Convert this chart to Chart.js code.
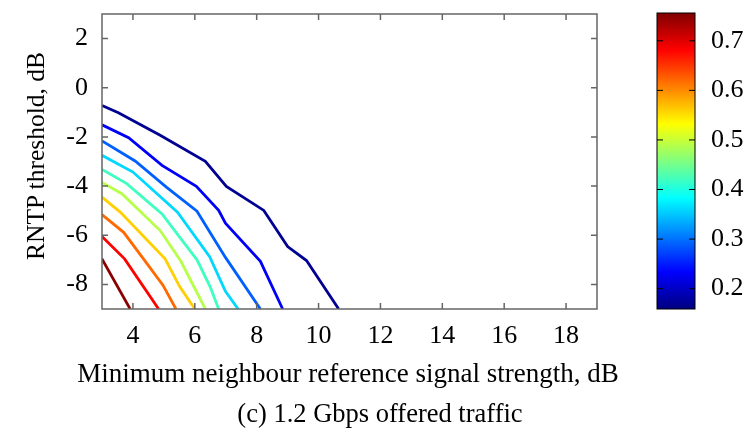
<!DOCTYPE html>
<html>
<head>
<meta charset="utf-8">
<script src="https://cdn.jsdelivr.net/npm/chart.js@4.4.0/dist/chart.umd.min.js"></script>
<style>
  body { margin: 0; background: #fff; }
  #wrap { position: relative; width: 749px; height: 434px; overflow: hidden; }
  canvas { position: absolute; top: 0; }
  .lbl { position: absolute; text-align: center; white-space: nowrap; color: #000;
         font: 27px/27px "Liberation Serif", serif; }
  #xtitle { left: 48px; width: 600px; top: 360px; }
  #ytitle { left: -114px; width: 300px; top: 143px; height: 26px; font-size: 25.5px; line-height: 26px;
            transform: rotate(-90deg); }
  #caption { left: 0; width: 760px; top: 400px; font-size: 26.5px; }
</style>
</head>
<body>
<div id="wrap">
  <canvas id="chart" width="749" height="434" style="left:0"></canvas>
  <canvas id="cbar" width="109" height="434" style="left:640px"></canvas>
  <div class="lbl" id="ytitle">RNTP threshold, dB</div>
  <div class="lbl" id="xtitle">Minimum neighbour reference signal strength, dB</div>
  <div class="lbl" id="caption">(c) 1.2 Gbps offered traffic</div>
</div>
<script>
// axis ticks
const xTicks = [4, 6, 8, 10, 12, 14, 16, 18];
const yTicks = [-8, -6, -4, -2, 0, 2];
const cbTicks = [0.2, 0.3, 0.4, 0.5, 0.6, 0.7];
const cbRange = [0.159, 0.756];

// contour levels (colour on the colour bar) and the lines, [x, y]
const levels = [0.17, 0.23, 0.29, 0.36, 0.42, 0.49, 0.56, 0.62, 0.68, 0.75];
const line1 = [[3.0, -0.72], [3.53, -1.02], [4.88, -1.93], [6.34, -2.99], [7.02, -4.01], [8.23, -4.99], [9.0, -6.46], [9.61, -7.03], [10.65, -9]];
const line2 = [[3.0, -1.51], [3.86, -2.03], [4.94, -3.16], [6.05, -4.01], [6.77, -4.99], [6.99, -5.51], [8.12, -7.06], [8.84, -9]];
const line3 = [[3.0, -2.16], [4.07, -2.98], [5.08, -4.04], [6.07, -5.02], [6.99, -6.9], [8.12, -9]];
const line4 = [[3.0, -2.75], [4.0, -3.43], [5.44, -5.06], [6.48, -6.87], [6.99, -8.28], [7.4, -9]];
const line5 = [[3.0, -3.32], [3.8, -3.9], [4.94, -5.13], [5.51, -6.08], [6.07, -7.0], [6.5, -8.11], [6.77, -9]];
const line6 = [[3.0, -3.85], [3.64, -4.31], [4.88, -5.81], [5.55, -7.06], [6.34, -9]];
const line7 = [[3.0, -4.45], [3.59, -5.06], [5.04, -6.96], [5.51, -8.09], [6.0, -9]];
const line8 = [[3.0, -5.16], [3.7, -5.88], [4.4, -7.06], [4.97, -8.03], [5.39, -9]];
const line9 = [[3.0, -6.05], [3.73, -6.96], [4.83, -9]];
const line10 = [[3.0, -6.96], [3.91, -9]];
const lines = [line1, line2, line3, line4, line5, line6, line7, line8, line9, line10];

const serif = '"Liberation Serif", "Times New Roman", serif';
const font = { family: serif, size: 26 };

function jet(v) {
  const t = (v - cbRange[0]) / (cbRange[1] - cbRange[0]);
  const c = x => Math.round(255 * Math.max(0, Math.min(1, x)));
  return 'rgb(' + c(1.5 - Math.abs(4 * t - 3)) + ',' + c(1.5 - Math.abs(4 * t - 2)) + ',' + c(1.5 - Math.abs(4 * t - 1)) + ')';
}

// no extra room for the end labels, the plot box is placed by hand
function noPad(s) {
  s.paddingTop = 0; s.paddingBottom = 0; s.paddingLeft = 0; s.paddingRight = 0;
}

// frame round the plot with gnuplot style inward ticks
function frameTicks(color, width, len, mirrorX) {
  return {
    id: 'frameTicks',
    afterDraw(chart) {
      const { ctx, chartArea: a, scales } = chart;
      ctx.save();
      ctx.strokeStyle = color;
      ctx.lineWidth = width;
      ctx.strokeRect(a.left, a.top, a.right - a.left, a.bottom - a.top);
      ctx.beginPath();
      if (mirrorX) {
        scales.x.ticks.forEach(t => {
          const px = scales.x.getPixelForValue(t.value);
          ctx.moveTo(px, a.bottom); ctx.lineTo(px, a.bottom - len);
          ctx.moveTo(px, a.top); ctx.lineTo(px, a.top + len);
        });
      }
      scales.y.ticks.forEach(t => {
        const py = scales.y.getPixelForValue(t.value);
        ctx.moveTo(a.left, py); ctx.lineTo(a.left + len, py);
        ctx.moveTo(a.right, py); ctx.lineTo(a.right - len, py);
      });
      ctx.stroke();
      ctx.restore();
    }
  };
}

new Chart(document.getElementById('chart'), {
  type: 'line',
  data: {
    datasets: lines.map((pts, i) => ({
      data: pts.map(p => ({ x: p[0], y: p[1] })),
      borderColor: jet(levels[i]),
      borderWidth: 2.8,
      pointRadius: 0,
      fill: false,
      tension: 0
    }))
  },
  options: {
    responsive: false,
    animation: false,
    devicePixelRatio: 1,
    layout: { padding: { top: 14, right: 152, left: 0, bottom: 0 } },
    plugins: { legend: { display: false }, tooltip: { enabled: false } },
    scales: {
      x: {
        type: 'linear', min: 3, max: 19,
        afterBuildTicks: s => { s.ticks = xTicks.map(v => ({ value: v })); },
        afterFit: s => { s.height = 125; noPad(s); },
        grid: { display: false, drawTicks: false },
        border: { display: false },
        ticks: { font, color: '#000', padding: 12, maxRotation: 0 },
        title: { display: false }
      },
      y: {
        type: 'linear', min: -9, max: 3,
        afterBuildTicks: s => { s.ticks = yTicks.map(v => ({ value: v })); },
        afterFit: s => { s.width = 102; noPad(s); },
        grid: { display: false, drawTicks: false },
        border: { display: false },
        ticks: { font, color: '#000', padding: 14 },
        title: { display: false }
      }
    }
  },
  plugins: [frameTicks('#666', 1.5, 6, true)]
});

// colour bar: one floating bar filled with the jet map
new Chart(document.getElementById('cbar'), {
  type: 'bar',
  data: {
    labels: [''],
    datasets: [{
      data: [cbRange],
      borderWidth: 0,
      barPercentage: 1,
      categoryPercentage: 1,
      backgroundColor: c => {
        const ch = c.chart;
        if (!ch.chartArea) return '#000';
        const ys = ch.scales.y;
        const g = ch.ctx.createLinearGradient(0, ys.getPixelForValue(cbRange[0]), 0, ys.getPixelForValue(cbRange[1]));
        [0, 0.125, 0.375, 0.625, 0.875, 1].forEach(t => {
          g.addColorStop(t, jet(cbRange[0] + t * (cbRange[1] - cbRange[0])));
        });
        return g;
      }
    }]
  },
  options: {
    responsive: false,
    animation: false,
    devicePixelRatio: 1,
    layout: { padding: { top: 13, left: 17, right: 0, bottom: 125 } },
    plugins: { legend: { display: false }, tooltip: { enabled: false } },
    scales: {
      x: { display: false },
      y: {
        position: 'right', min: cbRange[0], max: cbRange[1],
        afterBuildTicks: s => { s.ticks = cbTicks.map(v => ({ value: v })); },
        afterFit: s => { s.width = 54; noPad(s); },
        grid: { display: false, drawTicks: false },
        border: { display: false },
        ticks: { font, color: '#000', padding: 16, callback: v => v.toFixed(1) }
      }
    }
  },
  plugins: [frameTicks('#000', 1, 6, false)]
});
</script>
</body>
</html>
